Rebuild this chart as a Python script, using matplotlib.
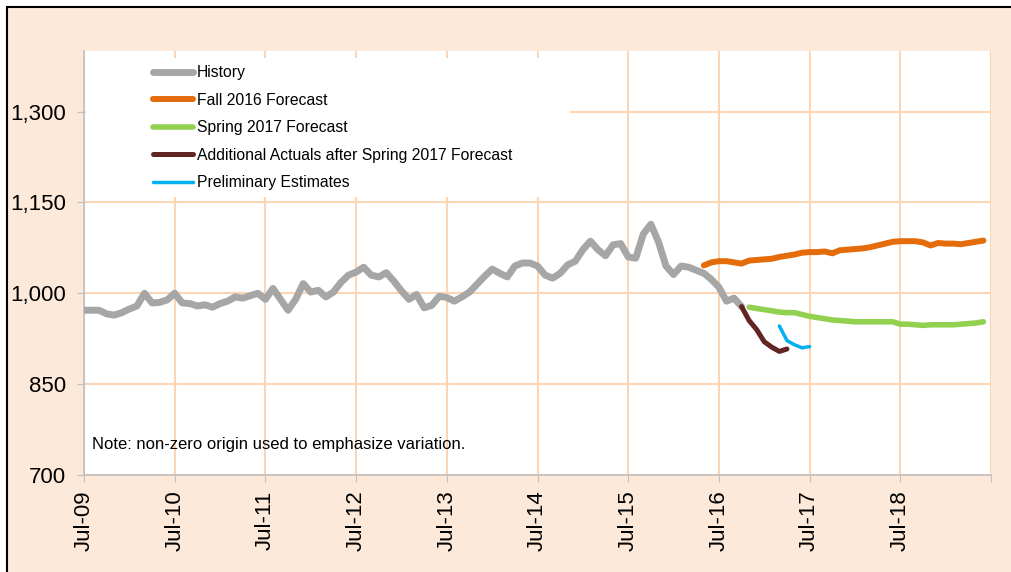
"""Employment history vs. Fall 2016 / Spring 2017 forecasts."""

import numpy as np
from matplotlib import pyplot as plt
from matplotlib.patches import Rectangle
from matplotlib.ticker import FuncFormatter

plt.rcParams['font.family'] = ['Liberation Sans', 'DejaVu Sans']

# months counted from Jul-09 (0) ...
history = [972, 972, 972, 966, 964, 968, 974, 979, 1000, 984,
           985, 989, 1000, 984, 983, 979, 981, 977, 983, 987,
           994, 992, 996, 1000, 990, 1008, 990, 972, 990, 1016,
           1002, 1005, 994, 1002, 1018, 1030, 1035, 1043, 1030, 1027,
           1034, 1020, 1004, 990, 998, 976, 980, 995, 993, 987,
           994, 1002, 1015, 1028, 1040, 1033, 1027, 1045, 1050, 1050,
           1045, 1030, 1025, 1033, 1047, 1053, 1072, 1086, 1072, 1062,
           1080, 1082, 1060, 1058, 1098, 1114, 1085, 1045, 1031, 1045,
           1043, 1038, 1033, 1023, 1010, 987, 992, 978]
history_start = 0

fall_2016 = [1046, 1051, 1053, 1053, 1051, 1049, 1054, 1055, 1056, 1057,
             1060, 1062, 1064, 1067, 1068, 1068, 1069, 1066, 1071, 1072,
             1073, 1074, 1076, 1079, 1082, 1085, 1086, 1086, 1086, 1084,
             1079, 1083, 1082, 1082, 1081, 1083, 1085, 1087]
fall_2016_start = 82

spring_2017 = [977, 975, 973, 971, 969, 968, 968, 965, 962, 960,
               958, 956, 955, 954, 953, 953, 953, 953, 953, 953,
               949, 949, 948, 947, 948, 948, 948, 948, 949, 950,
               951, 953]
spring_2017_start = 88

additional_actuals = [978, 955, 940, 920, 911, 904, 908]
additional_actuals_start = 87

preliminary = [946, 922, 915, 910, 912]
preliminary_start = 92

tick_months = list(range(0, 121, 12))
tick_labels = ['Jul-09', 'Jul-10', 'Jul-11', 'Jul-12', 'Jul-13', 'Jul-14',
               'Jul-15', 'Jul-16', 'Jul-17', 'Jul-18', '']
y_ticks = [700, 850, 1000, 1150, 1300]

series = [
    ('History', history_start, history, '#A6A6A6', 5.0),
    ('Fall 2016 Forecast', fall_2016_start, fall_2016, '#E46C0A', 4.3),
    ('Spring 2017 Forecast', spring_2017_start, spring_2017, '#92D050', 4.0),
    ('Additional Actuals after Spring 2017 Forecast', additional_actuals_start,
     additional_actuals, '#632523', 3.6),
    ('Preliminary Estimates', preliminary_start, preliminary, '#00B0F0', 2.5),
]

fig = plt.figure(figsize=(10.11, 5.72), dpi=100, facecolor='white')
# peach chart area with black frame (cropped on right/bottom)
fig.patches.append(Rectangle((7 / 1011, -0.5), 1.5, 1 - 7 / 572 + 0.5,
                             transform=fig.transFigure, facecolor='#FDE9D9',
                             edgecolor='black', linewidth=1.5, zorder=-5))

ax = fig.add_axes([84 / 1011, 1 - 475 / 572, 907 / 1011, 424 / 572])
ax.set_zorder(2)
ax.set_facecolor('white')
ax.set_axisbelow(True)

for label, start, values, color, lw in series:
    x = np.arange(start, start + len(values))
    ax.plot(x, values, color=color, linewidth=lw, label=label,
            solid_capstyle='round', solid_joinstyle='round', zorder=3)

ax.set_xlim(0, 120)
ax.set_ylim(700, 1400)
ax.set_xticks(tick_months)
ax.set_xticklabels(tick_labels, rotation=90, fontsize=16)
ax.set_yticks(y_ticks)
ax.yaxis.set_major_formatter(FuncFormatter(lambda v, p: f'{v:,.0f}'))
ax.tick_params(axis='y', labelsize=16, length=5, color='#BFBFBF', pad=8)
ax.tick_params(axis='x', length=5, color='#BFBFBF', pad=6)

ax.grid(True, color='#FCD5B4', linewidth=1.5)
for side in ['top', 'right']:
    ax.spines[side].set_visible(False)
for side in ['left', 'bottom']:
    ax.spines[side].set_color('#BFBFBF')
    ax.spines[side].set_linewidth(1.2)

# white legend box hides the grid behind it
ax.add_patch(Rectangle((2 / 907, (475 - 197) / 424), (570 - 86) / 907, 139 / 424,
                       transform=ax.transAxes, facecolor='white',
                       edgecolor='none', zorder=1))
ax.legend(loc='upper left', bbox_to_anchor=((153 - 84) / 907, (475 - 65) / 424),
          frameon=False, fontsize=11.3, borderpad=0, borderaxespad=0,
          handlelength=2.55, handletextpad=0.25, labelspacing=0.80)

ax.text(8 / 907, (475 - 444) / 424,
        'Note: non-zero origin used to emphasize variation.',
        transform=ax.transAxes, fontsize=12, va='center', ha='left')

fig.savefig('out.png', dpi=100, facecolor=fig.get_facecolor())
